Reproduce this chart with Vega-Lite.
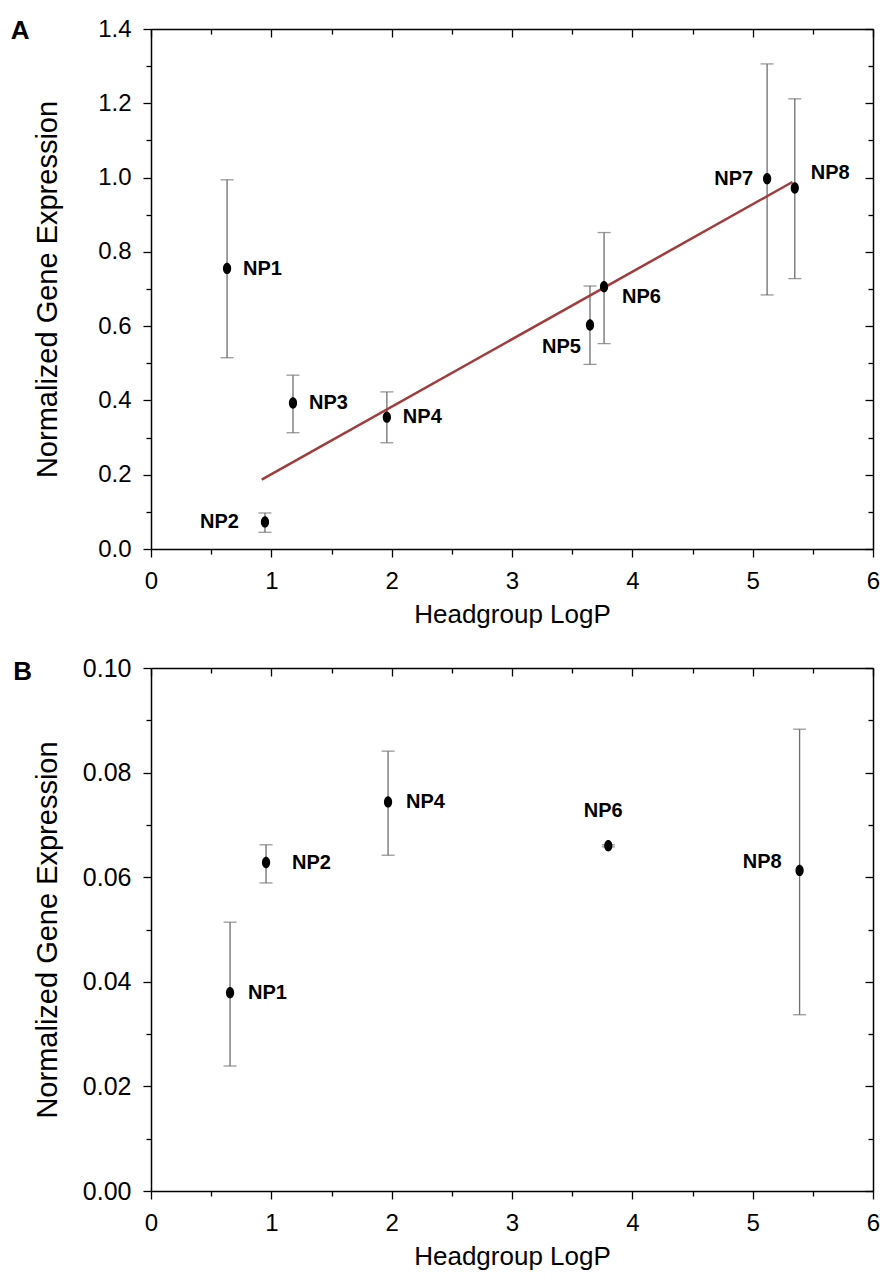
{
  "$schema": "https://vega.github.io/schema/vega-lite/v6.json",
  "padding": {"left": 10, "top": 17, "right": 9, "bottom": 5},
  "background": "white",
  "datasets": {
    "a": [
      {"name": "NP1", "x": 0.632, "y": 0.755, "lo": 0.515, "hi": 0.994},
      {"name": "NP2", "x": 0.947, "y": 0.073, "lo": 0.045, "hi": 0.097},
      {"name": "NP3", "x": 1.18, "y": 0.393, "lo": 0.313, "hi": 0.468},
      {"name": "NP4", "x": 1.96, "y": 0.355, "lo": 0.286, "hi": 0.423},
      {"name": "NP5", "x": 3.648, "y": 0.603, "lo": 0.497, "hi": 0.708},
      {"name": "NP6", "x": 3.765, "y": 0.706, "lo": 0.553, "hi": 0.852},
      {"name": "NP7", "x": 5.12, "y": 0.997, "lo": 0.684, "hi": 1.306},
      {"name": "NP8", "x": 5.35, "y": 0.972, "lo": 0.728, "hi": 1.212}
    ],
    "fit": [
      {"x": 0.92, "y": 0.187},
      {"x": 5.33, "y": 0.988}
    ],
    "b": [
      {"name": "NP1", "x": 0.657, "y": 0.0379, "lo": 0.0239, "hi": 0.0514},
      {"name": "NP2", "x": 0.956, "y": 0.0628, "lo": 0.0589, "hi": 0.0662},
      {"name": "NP4", "x": 1.97, "y": 0.0744, "lo": 0.0642, "hi": 0.0841},
      {"name": "NP6", "x": 3.8, "y": 0.066, "lo": 0.0658, "hi": 0.0662},
      {"name": "NP8", "x": 5.39, "y": 0.0613, "lo": 0.0337, "hi": 0.0883}
    ]
  },
  "spacing": 29,
  "vconcat": [
    {
      "title": {"text": "A", "anchor": "start", "frame": "bounds", "font": "Liberation Sans", "fontSize": 26, "fontWeight": "bold", "color": "black", "baseline": "alphabetic", "offset": -48, "dx": -23},
      "width": 722,
      "height": 520,
      "data": {"name": "a"},
      "resolve": {"axis": {"x": "independent", "y": "independent"}},
      "layer": [
        {
          "mark": {"type": "rule", "color": "#6e6e6e", "strokeWidth": 1.3},
          "encoding": {
            "x": {"field": "x", "type": "quantitative", "scale": {"domain": [0, 6], "nice": false, "zero": false},
              "axis": {"orient": "bottom", "values": [0, 0.5, 1, 1.5, 2, 2.5, 3, 3.5, 4, 4.5, 5, 5.5, 6], "labelFlush": false, "labelExpr": "datum.value % 1 == 0 ? format(datum.value, 'd') : ''", "tickSize": {"condition": {"test": "datum.value % 1 == 0", "value": 8}, "value": 5}, "labelPadding": 12, "title": "Headgroup LogP", "titlePadding": 8}},
            "y": {"field": "lo", "type": "quantitative", "scale": {"domain": [0, 1.4], "nice": false, "zero": false},
              "axis": {"orient": "left", "values": [0, 0.1, 0.2, 0.3, 0.4, 0.5, 0.6, 0.7, 0.8, 0.9, 1.0, 1.1, 1.2, 1.3, 1.4], "labelFlush": false, "labelExpr": "round(datum.value * 10) % 2 == 0 ? format(datum.value, '.1f') : ''", "tickSize": {"condition": {"test": "round(datum.value * 10) % 2 == 0", "value": 8}, "value": 5}, "labelPadding": 12, "title": "Normalized Gene Expression", "titleFontSize": 29, "titlePadding": 35}},
            "y2": {"field": "hi"}
          }
        },
        {
          "mark": {"type": "tick", "orient": "horizontal", "color": "#6e6e6e", "thickness": 1.3, "size": 13},
          "encoding": {
            "x": {"field": "x", "type": "quantitative", "axis": null},
            "y": {"field": "lo", "type": "quantitative", "axis": null}
          }
        },
        {
          "mark": {"type": "tick", "orient": "horizontal", "color": "#6e6e6e", "thickness": 1.3, "size": 13},
          "encoding": {
            "x": {"field": "x", "type": "quantitative", "axis": null},
            "y": {"field": "hi", "type": "quantitative", "axis": null}
          }
        },
        {
          "data": {"name": "fit"},
          "mark": {"type": "line", "color": "#a33b3b", "strokeWidth": 2.5},
          "encoding": {
            "x": {"field": "x", "type": "quantitative", "axis": null},
            "y": {"field": "y", "type": "quantitative", "axis": null}
          }
        },
        {
          "mark": {"type": "point", "filled": true, "color": "black", "opacity": 1, "size": 130, "shape": "M-0.72,0 A0.72,1 0 1,1 0.72,0 A0.72,1 0 1,1 -0.72,0 Z"},
          "encoding": {
            "x": {"field": "x", "type": "quantitative",
              "axis": {"orient": "top", "values": [0, 0.5, 1, 1.5, 2, 2.5, 3, 3.5, 4, 4.5, 5, 5.5, 6], "labels": false, "title": null, "minExtent": 0, "maxExtent": 0, "tickSize": {"condition": {"test": "datum.value % 1 == 0", "value": -8}, "value": -5}}},
            "y": {"field": "y", "type": "quantitative",
              "axis": {"orient": "right", "values": [0, 0.1, 0.2, 0.3, 0.4, 0.5, 0.6, 0.7, 0.8, 0.9, 1.0, 1.1, 1.2, 1.3, 1.4], "labels": false, "title": null, "minExtent": 0, "maxExtent": 0, "tickSize": {"condition": {"test": "round(datum.value * 10) % 2 == 0", "value": -8}, "value": -5}}}
          }
        },
        {
          "transform": [{"filter": {"field": "name", "oneOf": ["NP1", "NP3", "NP4"]}}],
          "mark": {"type": "text", "align": "left", "baseline": "middle", "dx": 16, "font": "Liberation Sans", "fontSize": 20, "fontWeight": "bold", "color": "black"},
          "encoding": {"x": {"field": "x", "type": "quantitative", "axis": null}, "y": {"field": "y", "type": "quantitative", "axis": null}, "text": {"field": "name"}}
        },
        {
          "transform": [{"filter": {"field": "name", "equal": "NP6"}}],
          "mark": {"type": "text", "align": "left", "baseline": "middle", "dx": 18, "dy": 10, "font": "Liberation Sans", "fontSize": 20, "fontWeight": "bold", "color": "black"},
          "encoding": {"x": {"field": "x", "type": "quantitative", "axis": null}, "y": {"field": "y", "type": "quantitative", "axis": null}, "text": {"field": "name"}}
        },
        {
          "transform": [{"filter": {"field": "name", "equal": "NP8"}}],
          "mark": {"type": "text", "align": "left", "baseline": "middle", "dx": 16, "dy": -15, "font": "Liberation Sans", "fontSize": 20, "fontWeight": "bold", "color": "black"},
          "encoding": {"x": {"field": "x", "type": "quantitative", "axis": null}, "y": {"field": "y", "type": "quantitative", "axis": null}, "text": {"field": "name"}}
        },
        {
          "transform": [{"filter": {"field": "name", "equal": "NP2"}}],
          "mark": {"type": "text", "align": "right", "baseline": "middle", "dx": -26, "font": "Liberation Sans", "fontSize": 20, "fontWeight": "bold", "color": "black"},
          "encoding": {"x": {"field": "x", "type": "quantitative", "axis": null}, "y": {"field": "y", "type": "quantitative", "axis": null}, "text": {"field": "name"}}
        },
        {
          "transform": [{"filter": {"field": "name", "equal": "NP7"}}],
          "mark": {"type": "text", "align": "right", "baseline": "middle", "dx": -14, "font": "Liberation Sans", "fontSize": 20, "fontWeight": "bold", "color": "black"},
          "encoding": {"x": {"field": "x", "type": "quantitative", "axis": null}, "y": {"field": "y", "type": "quantitative", "axis": null}, "text": {"field": "name"}}
        },
        {
          "transform": [{"filter": {"field": "name", "equal": "NP5"}}],
          "mark": {"type": "text", "align": "right", "baseline": "middle", "dx": -9, "dy": 22, "font": "Liberation Sans", "fontSize": 20, "fontWeight": "bold", "color": "black"},
          "encoding": {"x": {"field": "x", "type": "quantitative", "axis": null}, "y": {"field": "y", "type": "quantitative", "axis": null}, "text": {"field": "name"}}
        }
      ]
    },
    {
      "title": {"text": "B", "anchor": "start", "frame": "bounds", "font": "Liberation Sans", "fontSize": 26, "fontWeight": "bold", "color": "black", "baseline": "alphabetic", "offset": -50, "dx": -20},
      "width": 722,
      "height": 523,
      "data": {"name": "b"},
      "resolve": {"axis": {"x": "independent", "y": "independent"}},
      "layer": [
        {
          "mark": {"type": "rule", "color": "#6e6e6e", "strokeWidth": 1.3},
          "encoding": {
            "x": {"field": "x", "type": "quantitative", "scale": {"domain": [0, 6], "nice": false, "zero": false},
              "axis": {"orient": "bottom", "values": [0, 0.5, 1, 1.5, 2, 2.5, 3, 3.5, 4, 4.5, 5, 5.5, 6], "labelFlush": false, "labelExpr": "datum.value % 1 == 0 ? format(datum.value, 'd') : ''", "tickSize": {"condition": {"test": "datum.value % 1 == 0", "value": 8}, "value": 5}, "labelPadding": 12, "title": "Headgroup LogP", "titlePadding": 8}},
            "y": {"field": "lo", "type": "quantitative", "scale": {"domain": [0, 0.1], "nice": false, "zero": false},
              "axis": {"orient": "left", "values": [0, 0.01, 0.02, 0.03, 0.04, 0.05, 0.06, 0.07, 0.08, 0.09, 0.1], "labelFlush": false, "labelExpr": "round(datum.value * 100) % 2 == 0 ? format(datum.value, '.2f') : ''", "tickSize": {"condition": {"test": "round(datum.value * 100) % 2 == 0", "value": 8}, "value": 5}, "labelPadding": 12, "labelFontSize": 25, "title": "Normalized Gene Expression", "titleFontSize": 29, "titlePadding": 20}},
            "y2": {"field": "hi"}
          }
        },
        {
          "mark": {"type": "tick", "orient": "horizontal", "color": "#6e6e6e", "thickness": 1.3, "size": 13},
          "encoding": {
            "x": {"field": "x", "type": "quantitative", "axis": null},
            "y": {"field": "lo", "type": "quantitative", "axis": null}
          }
        },
        {
          "mark": {"type": "tick", "orient": "horizontal", "color": "#6e6e6e", "thickness": 1.3, "size": 13},
          "encoding": {
            "x": {"field": "x", "type": "quantitative", "axis": null},
            "y": {"field": "hi", "type": "quantitative", "axis": null}
          }
        },
        {
          "mark": {"type": "point", "filled": true, "color": "black", "opacity": 1, "size": 130, "shape": "M-0.72,0 A0.72,1 0 1,1 0.72,0 A0.72,1 0 1,1 -0.72,0 Z"},
          "encoding": {
            "x": {"field": "x", "type": "quantitative",
              "axis": {"orient": "top", "values": [0, 0.5, 1, 1.5, 2, 2.5, 3, 3.5, 4, 4.5, 5, 5.5, 6], "labels": false, "title": null, "minExtent": 0, "maxExtent": 0, "tickSize": {"condition": {"test": "datum.value % 1 == 0", "value": -8}, "value": -5}}},
            "y": {"field": "y", "type": "quantitative",
              "axis": {"orient": "right", "values": [0, 0.01, 0.02, 0.03, 0.04, 0.05, 0.06, 0.07, 0.08, 0.09, 0.1], "labels": false, "title": null, "minExtent": 0, "maxExtent": 0, "tickSize": {"condition": {"test": "round(datum.value * 100) % 2 == 0", "value": -8}, "value": -5}}}
          }
        },
        {
          "transform": [{"filter": {"field": "name", "oneOf": ["NP1", "NP4"]}}],
          "mark": {"type": "text", "align": "left", "baseline": "middle", "dx": 18, "font": "Liberation Sans", "fontSize": 20, "fontWeight": "bold", "color": "black"},
          "encoding": {"x": {"field": "x", "type": "quantitative", "axis": null}, "y": {"field": "y", "type": "quantitative", "axis": null}, "text": {"field": "name"}}
        },
        {
          "transform": [{"filter": {"field": "name", "equal": "NP2"}}],
          "mark": {"type": "text", "align": "left", "baseline": "middle", "dx": 26, "font": "Liberation Sans", "fontSize": 20, "fontWeight": "bold", "color": "black"},
          "encoding": {"x": {"field": "x", "type": "quantitative", "axis": null}, "y": {"field": "y", "type": "quantitative", "axis": null}, "text": {"field": "name"}}
        },
        {
          "transform": [{"filter": {"field": "name", "equal": "NP6"}}],
          "mark": {"type": "text", "align": "center", "baseline": "middle", "dx": -5, "dy": -35, "font": "Liberation Sans", "fontSize": 20, "fontWeight": "bold", "color": "black"},
          "encoding": {"x": {"field": "x", "type": "quantitative", "axis": null}, "y": {"field": "y", "type": "quantitative", "axis": null}, "text": {"field": "name"}}
        },
        {
          "transform": [{"filter": {"field": "name", "equal": "NP8"}}],
          "mark": {"type": "text", "align": "right", "baseline": "middle", "dx": -18, "dy": -8, "font": "Liberation Sans", "fontSize": 20, "fontWeight": "bold", "color": "black"},
          "encoding": {"x": {"field": "x", "type": "quantitative", "axis": null}, "y": {"field": "y", "type": "quantitative", "axis": null}, "text": {"field": "name"}}
        }
      ]
    }
  ],
  "config": {
    "view": {"stroke": null},
    "axis": {
      "grid": false,
      "domainColor": "black",
      "domainWidth": 1.5,
      "tickColor": "black",
      "tickWidth": 1.3,
      "labelFont": "Liberation Sans",
      "labelFontSize": 24,
      "labelColor": "black",
      "titleFont": "Liberation Sans",
      "titleFontSize": 26,
      "titleFontWeight": "normal",
      "titleColor": "black"
    }
  }
}
